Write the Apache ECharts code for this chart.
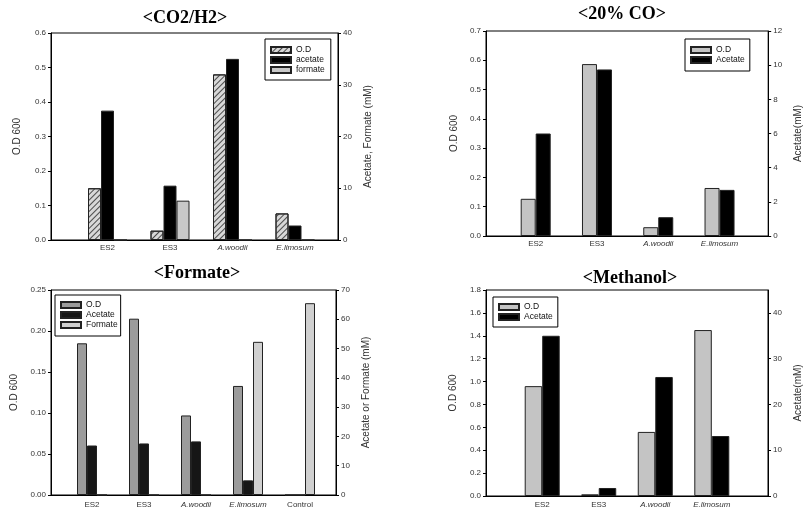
<!DOCTYPE html>
<html>
<head>
<meta charset="utf-8">
<script src="https://cdn.jsdelivr.net/npm/echarts@6/dist/echarts.min.js"></script>
<style>
  html, body { margin: 0; padding: 0; background: #fff; width: 811px; height: 510px; overflow: hidden; }
  .panel { position: absolute; }
</style>
</head>
<body>
<div id="p1" class="panel" style="left:0;top:0;width:405px;height:255px"></div>
<div id="p2" class="panel" style="left:405px;top:0;width:406px;height:255px"></div>
<div id="p3" class="panel" style="left:0;top:255px;width:405px;height:255px"></div>
<div id="p4" class="panel" style="left:405px;top:255px;width:406px;height:255px"></div>
<script>
// ---- <CO2/H2> ----
const co2Strains   = ['ES2', 'ES3', 'A.woodii', 'E.limosum'];
const co2OD        = [0.150, 0.027, 0.480, 0.077];
const co2Acetate   = [25.0, 10.5, 35.0, 2.8];
const co2Formate   = [0, 7.6, 0, 0];
const co2OdTicks   = [0, 0.1, 0.2, 0.3, 0.4, 0.5, 0.6];
const co2MmTicks   = [0, 10, 20, 30, 40];

// ---- <20% CO> ----
const coStrains    = ['ES2', 'ES3', 'A.woodii', 'E.limosum'];
const coOD         = [0.127, 0.587, 0.030, 0.164];
const coAcetate    = [6.0, 9.75, 1.1, 2.7];
const coOdTicks    = [0, 0.1, 0.2, 0.3, 0.4, 0.5, 0.6, 0.7];
const coMmTicks    = [0, 2, 4, 6, 8, 10, 12];

// ---- <Formate> ----
const fmStrains    = ['ES2', 'ES3', 'A.woodii', 'E.limosum', 'Control'];
const fmOD         = [0.185, 0.215, 0.097, 0.133, 0];
const fmAcetate    = [16.9, 17.6, 18.3, 5.0, 0];
const fmFormate    = [0, 0, 0, 52.3, 65.5];
const fmOdTicks    = [0, 0.05, 0.10, 0.15, 0.20, 0.25];
const fmMmTicks    = [0, 10, 20, 30, 40, 50, 60, 70];

// ---- <Methanol> ----
const meStrains    = ['ES2', 'ES3', 'A.woodii', 'E.limosum'];
const meOD         = [0.96, 0.015, 0.56, 1.45];
const meAcetate    = [35.0, 1.75, 26.0, 13.1];
const meOdTicks    = [0, 0.2, 0.4, 0.6, 0.8, 1.0, 1.2, 1.4, 1.6, 1.8];
const meMmTicks    = [0, 10, 20, 30, 40];

const SANS = '"Liberation Sans", Arial, sans-serif';
const SERIF = '"Liberation Serif", "Times New Roman", serif';
const ITALIC_NAMES = ['A.woodii', 'E.limosum'];

function buildPanel(el, cfg) {
  const chart = echarts.init(el, null, { renderer: 'canvas' });
  const cats = cfg.categories;
  const positions = cats.map((c, i) => i + 1);

  const yAxis = (ticks, digits, max, name, nameGap, position) => ({
    type: 'value',
    gridIndex: 0,
    position: position,
    min: ticks[0],
    max: max != null ? max : ticks[ticks.length - 1],
    name: name,
    nameLocation: 'middle',
    nameRotate: 90,
    nameGap: nameGap,
    nameTextStyle: { fontFamily: SANS, fontSize: 10, color: '#333' },
    axisLine: { show: true, onZero: false, lineStyle: { color: '#000', width: 1 } },
    axisTick: { show: true, inside: false, length: 3, customValues: ticks, lineStyle: { color: '#000' } },
    axisLabel: {
      customValues: ticks,
      formatter: v => v.toFixed(digits),
      fontFamily: SANS, fontSize: 8, color: '#333', margin: 5
    },
    splitLine: { show: false }
  });

  const series = cfg.series.map(s => ({
    type: 'bar',
    name: s.name,
    yAxisIndex: s.axis,
    barWidth: cfg.barWidth,
    barGap: '0%',
    data: s.values.map((v, i) => [positions[i], v]),
    itemStyle: Object.assign({ color: s.color, borderColor: '#222', borderWidth: 1 },
                             s.decal ? { decal: s.decal } : {}),
    emphasis: { disabled: true },
    silent: true
  }));

  chart.setOption({
    animation: false,
    grid: Object.assign({ show: true, borderColor: '#000', borderWidth: 1, backgroundColor: 'transparent',
                          containLabel: false }, cfg.grid),
    xAxis: {
      type: 'value',
      min: cfg.xMin,
      max: cfg.xMax,
      axisLine: { show: true, onZero: false, lineStyle: { color: '#000', width: 1 } },
      axisTick: { show: false },
      splitLine: { show: false },
      axisLabel: {
        customValues: positions,
        margin: cfg.xLabelMargin,
        fontFamily: SANS, fontSize: 8, color: '#333',
        formatter: v => {
          const name = cats[Math.round(v) - 1] || '';
          return ITALIC_NAMES.indexOf(name) >= 0 ? '{i|' + name + '}' : name;
        },
        rich: { i: { fontStyle: 'italic', fontFamily: SANS, fontSize: 8, color: '#333' } }
      }
    },
    yAxis: [
      yAxis(cfg.leftTicks, cfg.leftDigits, null, 'O.D 600', cfg.leftNameGap, 'left'),
      yAxis(cfg.rightTicks, 0, cfg.rightMax, cfg.rightName, cfg.rightNameGap, 'right')
    ],
    legend: Object.assign({
      orient: 'vertical',
      icon: 'rect',
      itemWidth: 20,
      itemHeight: 6,
      itemGap: 0,
      selectedMode: false,
      borderColor: '#000',
      borderWidth: 1,
      backgroundColor: '#fff',
      textStyle: { fontFamily: SANS, fontSize: 8.5, color: '#111', lineHeight: 10 },
      data: cfg.series.map(s => s.name)
    }, cfg.legend),
    graphic: [{
      type: 'text',
      x: cfg.titleX,
      y: cfg.titleY,
      style: {
        text: cfg.title,
        font: 'bold 18px ' + SERIF,
        fill: '#000',
        align: 'center',
        verticalAlign: 'middle'
      }
    }],
    series: series
  });
  return chart;
}

// diagonal "////" hatching for the O.D bars of the CO2/H2 panel
const hatch = {
  symbol: 'rect', symbolSize: 1,
  dashArrayX: [1, 0], dashArrayY: [1, 2.5],
  rotation: -Math.PI / 4,
  color: '#4a4a4a'
};

buildPanel(document.getElementById('p1'), {
  title: '<CO2/H2>', titleX: 185, titleY: 18,
  categories: co2Strains,
  grid: { left: 51, top: 33, width: 287, height: 207 },
  xMin: 0.096, xMax: 4.688, xLabelMargin: 4,
  barWidth: 13,
  leftTicks: co2OdTicks, leftDigits: 1, leftNameGap: 29,
  rightTicks: co2MmTicks, rightName: 'Acetate, Formate (mM)', rightNameGap: 24,
  legend: { left: 265, top: 39, padding: [6, 6, 5, 5] },
  series: [
    { name: 'O.D', values: co2OD, axis: 0, color: '#d8d8d8', decal: hatch },
    { name: 'acetate', values: co2Acetate, axis: 1, color: '#000' },
    { name: 'formate', values: co2Formate, axis: 1, color: '#c8c8c8' }
  ]
});

buildPanel(document.getElementById('p2'), {
  title: '<20% CO>', titleX: 217, titleY: 14,
  categories: coStrains,
  grid: { left: 81, top: 31, width: 284, height: 205 },
  xMin: 0.189, xMax: 4.794, xLabelMargin: 4,
  barWidth: 15,
  leftTicks: coOdTicks, leftDigits: 1, leftNameGap: 24,
  rightTicks: coMmTicks, rightName: 'Acetate(mM)', rightNameGap: 23,
  legend: { left: 280, top: 39, padding: [6, 5, 6, 5] },
  series: [
    { name: 'O.D', values: coOD, axis: 0, color: '#c4c4c4' },
    { name: 'Acetate', values: coAcetate, axis: 1, color: '#000' }
  ]
});

buildPanel(document.getElementById('p3'), {
  title: '<Formate>', titleX: 197, titleY: 18,
  categories: fmStrains,
  grid: { left: 51, top: 35, width: 285, height: 205 },
  xMin: 0.2115, xMax: 5.692, xLabelMargin: 6,
  barWidth: 10,
  leftTicks: fmOdTicks, leftDigits: 2, leftNameGap: 29,
  rightTicks: fmMmTicks, rightName: 'Acetate or Formate (mM)', rightNameGap: 24,
  legend: { left: 55, top: 40, padding: [5, 3, 6, 5] },
  series: [
    { name: 'O.D', values: fmOD, axis: 0, color: '#9c9c9c' },
    { name: 'Acetate', values: fmAcetate, axis: 1, color: '#161616' },
    { name: 'Formate', values: fmFormate, axis: 1, color: '#d0d0d0' }
  ]
});

buildPanel(document.getElementById('p4'), {
  title: '<Methanol>', titleX: 225, titleY: 23,
  categories: meStrains,
  grid: { left: 81, top: 35, width: 286, height: 206 },
  xMin: 0.0058, xMax: 4.994, xLabelMargin: 5,
  barWidth: 17.5,
  leftTicks: meOdTicks, leftDigits: 1, leftNameGap: 28,
  rightTicks: meMmTicks, rightMax: 45, rightName: 'Acetate(mM)', rightNameGap: 25,
  legend: { left: 88, top: 42, padding: [5, 5, 5, 5] },
  series: [
    { name: 'O.D', values: meOD, axis: 0, color: '#c4c4c4' },
    { name: 'Acetate', values: meAcetate, axis: 1, color: '#000' }
  ]
});
</script>
</body>
</html>
